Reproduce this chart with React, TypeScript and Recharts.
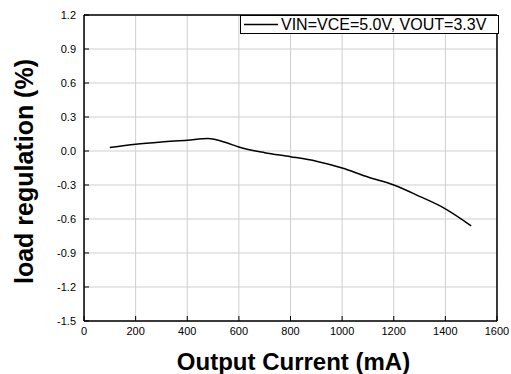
import React from 'react';
import { LineChart, Line, XAxis, YAxis, CartesianGrid, Legend } from 'recharts';

// output current (mA) and measured load regulation (%)
const currentMa = [100, 200, 300, 400, 480, 550, 600, 700, 800, 900, 1000, 1100, 1200, 1300, 1400, 1500];
const regulation = [0.03, 0.06, 0.08, 0.095, 0.11, 0.075, 0.035, -0.015, -0.05, -0.09, -0.15, -0.23, -0.3, -0.4, -0.51, -0.66];

const xMajor = [0, 200, 400, 600, 800, 1000, 1200, 1400, 1600];
const xMinor = [100, 300, 500, 700, 900, 1100, 1300, 1500];
const yMajor = [-1.5, -1.2, -0.9, -0.6, -0.3, 0, 0.3, 0.6, 0.9, 1.2];
const yMinor = [-1.35, -1.05, -0.75, -0.45, -0.15, 0.15, 0.45, 0.75, 1.05];

const seriesName = 'VIN=VCE=5.0V, VOUT=3.3V';

const data = currentMa.map((x, i) => ({ x, y: regulation[i] }));

const FONT = '"Liberation Sans", Arial, sans-serif';
const tickStyle = { fill: '#000', fontSize: 11, fontFamily: FONT };
const frame = { stroke: '#000', strokeWidth: 1.5 };
const tickLine = { stroke: '#000', strokeWidth: 1 };
// axes need a non-zero size to render; keep them practically flat so they all sit on the frame
const THIN = 0.01;

const LegendBox = () => (
  <div
    style={{
      border: '1px solid #000',
      background: '#fff',
      height: 19,
      display: 'flex',
      alignItems: 'center',
      fontFamily: FONT,
      fontSize: 16,
      color: '#000',
      boxSizing: 'border-box',
    }}
  >
    <svg width={40} height={17}>
      <line x1={3} x2={37} y1={8.5} y2={8.5} stroke="#000" strokeWidth={1.5} />
    </svg>
    <span style={{ lineHeight: '16px' }}>{seriesName}</span>
  </div>
);

export default function App() {
  return (
    <div style={{ position: 'absolute', left: 0, top: 0 }}>
      <LineChart width={511} height={374} data={data} margin={{ top: 15, right: 14, bottom: 53, left: 84 }}>
        <CartesianGrid stroke="#cfcfcf" strokeWidth={1} />

        {/* bottom axis with labels and title */}
        <XAxis
          dataKey="x"
          type="number"
          domain={[0, 1600]}
          ticks={xMajor}
          height={THIN}
          axisLine={frame}
          tickLine={tickLine}
          tickSize={-5}
          tickMargin={11}
          tick={tickStyle}
          interval={0}
          label={{
            content: ({ viewBox }: any) => (
              <text
                x={viewBox.x + viewBox.width / 2 + 3}
                y={370}
                textAnchor="middle"
                fontFamily={FONT}
                fontWeight="bold"
                fontSize={24}
                fill="#000"
              >
                Output Current (mA)
              </text>
            ),
          }}
        />
        <XAxis xAxisId="minorB" type="number" domain={[0, 1600]} ticks={xMinor} height={THIN} axisLine={false} tickLine={tickLine} tickSize={-3} tick={false} interval={0} />
        <XAxis xAxisId="top" orientation="top" type="number" domain={[0, 1600]} ticks={xMajor} height={THIN} axisLine={frame} tickLine={tickLine} tickSize={-5} tick={false} interval={0} />
        <XAxis xAxisId="minorT" orientation="top" type="number" domain={[0, 1600]} ticks={xMinor} height={THIN} axisLine={false} tickLine={tickLine} tickSize={-3} tick={false} interval={0} />

        {/* left axis with labels and title */}
        <YAxis
          type="number"
          domain={[-1.5, 1.2]}
          ticks={yMajor}
          width={THIN}
          axisLine={frame}
          tickLine={tickLine}
          tickSize={-5}
          tickMargin={13}
          tick={tickStyle}
          interval={0}
          tickFormatter={(v: number) => v.toFixed(1)}
          label={{
            content: ({ viewBox }: any) => {
              const cx = 24;
              const cy = viewBox.y + viewBox.height / 2 + 3.5;
              return (
                <text
                  x={cx}
                  y={cy}
                  transform={`rotate(-90 ${cx} ${cy})`}
                  textAnchor="middle"
                  dominantBaseline="central"
                  fontFamily={FONT}
                  fontWeight="bold"
                  fontSize={25}
                  fill="#000"
                >
                  load regulation (%)
                </text>
              );
            },
          }}
        />
        <YAxis yAxisId="minorL" type="number" domain={[-1.5, 1.2]} ticks={yMinor} width={THIN} axisLine={false} tickLine={tickLine} tickSize={-3} tick={false} interval={0} />
        <YAxis yAxisId="right" orientation="right" type="number" domain={[-1.5, 1.2]} ticks={yMajor} width={THIN} axisLine={frame} tickLine={tickLine} tickSize={-5} tick={false} interval={0} />
        <YAxis yAxisId="minorR" orientation="right" type="number" domain={[-1.5, 1.2]} ticks={yMinor} width={THIN} axisLine={false} tickLine={tickLine} tickSize={-3} tick={false} interval={0} />

        <Legend
          layout="horizontal"
          verticalAlign="middle"
          align="center"
          width={259}
          wrapperStyle={{ left: 240, top: 15, width: 259 }}
          content={() => <LegendBox />}
        />
        <Line
          type="monotone"
          dataKey="y"
          name={seriesName}
          stroke="#000"
          strokeWidth={1.5}
          dot={false}
          isAnimationActive={false}
        />
      </LineChart>
    </div>
  );
}
